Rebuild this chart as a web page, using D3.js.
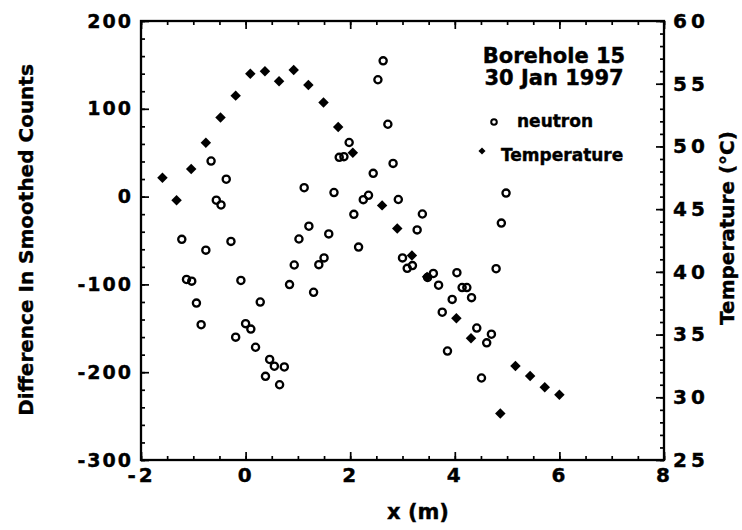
<!DOCTYPE html>
<html>
<head>
<meta charset="utf-8">
<script src="https://cdn.jsdelivr.net/npm/d3@7"></script>
<style>
	body { margin: 0; background: #fff; }
	svg { display: block; }
	text { font-family: "DejaVu Sans", sans-serif; font-weight: bold; fill: #000; stroke: #000; stroke-width: 0.4px; }
</style>
</head>
<body>
<div id="canvas"></div>
<script>

// Neutron: difference in smoothed counts vs x (m)
var neutronX = [-1.22, -1.13, -1.03, -0.94, -0.85, -0.76, -0.66, -0.56, -0.47, -0.37,
	-0.28, -0.19, -0.09, 0.00, 0.10, 0.19, 0.28, 0.38, 0.46, 0.55,
	0.65, 0.74, 0.84, 0.93, 1.02, 1.12, 1.21, 1.30, 1.40, 1.50,
	1.59, 1.69, 1.79, 1.88, 1.98, 2.07, 2.16, 2.25, 2.35, 2.44,
	2.53, 2.63, 2.72, 2.82, 2.92, 3.00, 3.09, 3.19, 3.28, 3.38,
	3.48, 3.59, 3.69, 3.76, 3.86, 3.95, 4.04, 4.14, 4.23, 4.32,
	4.42, 4.51, 4.61, 4.70, 4.79, 4.89, 4.98];
var neutronY = [-48.7, -94.4, -96.3, -121.3, -145.9, -61.0, 40.5, -4.1, -9.5, 19.8,
	-51.0, -160.1, -95.5, -144.7, -150.9, -171.6, -120.1, -204.7, -185.5, -193.2,
	-214.3, -194.0, -100.2, -77.9, -48.3, 10.1, -33.7, -109.0, -77.5, -69.8,
	-42.5, 4.6, 44.7, 45.5, 61.6, -20.2, -57.5, -3.5, 1.5, 26.5,
	133.1, 154.6, 82.4, 37.8, -3.3, -69.8, -81.7, -78.6, -37.9, -19.8,
	-92.0, -87.5, -100.9, -131.7, -175.9, -117.1, -86.7, -103.6, -103.6, -115.1,
	-149.7, -206.6, -166.6, -156.7, -82.1, -30.2, 4.0];

// Temperature (°C) vs x (m)
var tempX = [-1.59, -1.32, -1.04, -0.76, -0.48, -0.19, 0.09, 0.37, 0.64, 0.92,
	1.20, 1.49, 1.77, 2.05, 2.61, 2.90, 3.18, 3.47, 4.03, 4.31,
	4.87, 5.16, 5.44, 5.72, 6.00];
var tempY = [47.5, 45.7, 48.2, 50.3, 52.3, 54.05, 55.8, 56.0, 55.2, 56.1,
	54.9, 53.5, 51.55, 49.5, 45.3, 43.45, 41.3, 39.6, 36.3, 34.7,
	28.7, 32.5, 31.7, 30.8, 30.2];

// Ticks
var xTicks = [-2, 0, 2, 4, 6, 8],
	countTicks = [-300, -200, -100, 0, 100, 200],
	tempTicks = [25, 30, 35, 40, 45, 50, 55, 60];

var xMinor = d3.range(-2, 8.01, 0.5),
	countMinor = d3.range(-300, 200.1, 20),
	tempMinor = d3.range(25, 60.1, 1);

// Layout
var outerWidth = 742,
	outerHeight = 530,
	margin = { top: 21, right: 78, bottom: 70, left: 141 },
	width = outerWidth - margin.left - margin.right,
	height = outerHeight - margin.top - margin.bottom;

var xScale = d3.scaleLinear().domain([-2, 8]).range([0, width]),
	yScale = d3.scaleLinear().domain([-300, 200]).range([height, 0]),
	tScale = d3.scaleLinear().domain([25, 60]).range([height, 0]);

// plain hyphen for negatives, like the original
var fmt = function(d) { return String(d); };

var svg = d3.select('#canvas').append('svg')
	.attr('width', outerWidth)
	.attr('height', outerHeight);

var gWrap = svg.append('g')
	.attr('transform', 'translate(' + margin.left + ',' + margin.top + ')');

// draws one axis, drops the domain path, styles ticks + labels
function drawAxis(axis, tx, ty, size, spacing) {
	var gAxis = gWrap.append('g')
		.attr('transform', 'translate(' + tx + ',' + ty + ')')
		.attr('font-family', null)
		.attr('font-size', null)
		.call(axis);
	gAxis.select('.domain').remove();
	gAxis.selectAll('line').attr('stroke', '#000').attr('stroke-width', 1.7);
	gAxis.selectAll('text')
		.style('font-size', size + 'px')
		.style('letter-spacing', spacing + 'px');
	return gAxis;
}

// minor ticks (inward, no labels)
drawAxis(d3.axisBottom(xScale).tickValues(xMinor).tickSize(-4).tickFormat(''), 0, height, 0, 0);
drawAxis(d3.axisTop(xScale).tickValues(xMinor).tickSize(-4).tickFormat(''), 0, 0, 0, 0);
drawAxis(d3.axisLeft(yScale).tickValues(countMinor).tickSize(-4).tickFormat(''), 0, 0, 0, 0);
drawAxis(d3.axisRight(tScale).tickValues(tempMinor).tickSize(-4).tickFormat(''), width, 0, 0, 0);

// major ticks
drawAxis(d3.axisBottom(xScale).tickValues(xTicks).tickSize(-8).tickPadding(8)
	.tickFormat(fmt), 0, height, 20, 3);
drawAxis(d3.axisTop(xScale).tickValues(xTicks).tickSize(-8).tickFormat(''), 0, 0, 0, 0);
drawAxis(d3.axisLeft(yScale).tickValues(countTicks).tickSize(-8).tickPadding(8)
	.tickFormat(fmt), 0, 0, 19, 2);
drawAxis(d3.axisRight(tScale).tickValues(tempTicks).tickSize(-8).tickPadding(9)
	.tickFormat(fmt), width, 0, 20, 4);

// frame
gWrap.append('rect')
	.attr('width', width)
	.attr('height', height)
	.attr('fill', 'none')
	.attr('stroke', '#000')
	.attr('stroke-width', 2.3);

// neutron circles
gWrap.append('g').selectAll('circle')
	.data(neutronX.map(function(d, i) { return [d, neutronY[i]]; }))
	.enter().append('circle')
	.attr('cx', function(d) { return xScale(d[0]); })
	.attr('cy', function(d) { return yScale(d[1]); })
	.attr('r', 3.6)
	.attr('fill', 'none')
	.attr('stroke', '#000')
	.attr('stroke-width', 2.3);

// temperature diamonds
var diamond = d3.symbol().type(d3.symbolDiamond2).size(70);
gWrap.append('g').selectAll('path')
	.data(tempX.map(function(d, i) { return [d, tempY[i]]; }))
	.enter().append('path')
	.attr('d', diamond)
	.attr('transform', function(d) {
		return 'translate(' + xScale(d[0]) + ',' + tScale(d[1]) + ')';
	})
	.attr('fill', '#000');

// Axis titles
svg.append('text')
	.attr('transform', 'translate(33,240) rotate(-90)')
	.attr('text-anchor', 'middle')
	.style('font-size', '20px')
	.text('Difference In Smoothed Counts');

svg.append('text')
	.attr('transform', 'translate(734,228) rotate(-90)')
	.attr('text-anchor', 'middle')
	.style('font-size', '20px')
	.text('Temperature (°C)');

svg.append('text')
	.attr('x', 418)
	.attr('y', 519)
	.attr('text-anchor', 'middle')
	.style('font-size', '21px')
	.text('x (m)');

// Annotation + legend
svg.append('text')
	.attr('x', 554)
	.attr('y', 63)
	.attr('text-anchor', 'middle')
	.style('font-size', '21px')
	.text('Borehole 15');
svg.append('text')
	.attr('x', 554)
	.attr('y', 85)
	.attr('text-anchor', 'middle')
	.style('font-size', '21px')
	.text('30 Jan 1997');

svg.append('circle')
	.attr('cx', 494)
	.attr('cy', 122)
	.attr('r', 2.8)
	.attr('fill', 'none')
	.attr('stroke', '#000')
	.attr('stroke-width', 2);
svg.append('text')
	.attr('x', 517)
	.attr('y', 127)
	.style('font-size', '17px')
	.text('neutron');

svg.append('path')
	.attr('d', d3.symbol().type(d3.symbolDiamond2).size(32))
	.attr('transform', 'translate(482,151)')
	.attr('fill', '#000');
svg.append('text')
	.attr('x', 501)
	.attr('y', 161)
	.style('font-size', '17px')
	.text('Temperature');

</script>
</body>
</html>
